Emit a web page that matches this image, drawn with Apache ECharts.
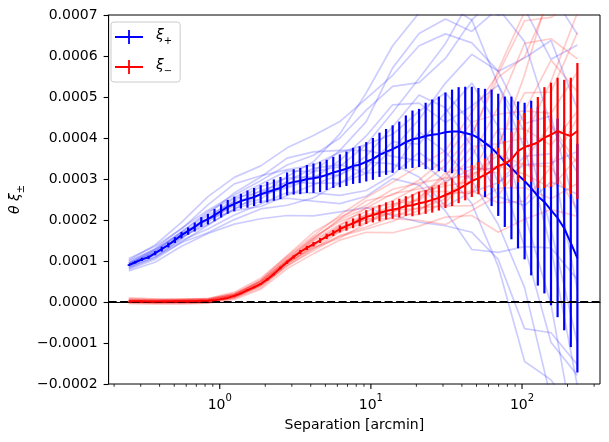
<!DOCTYPE html>
<html lang="en">
<head>
    <meta charset="utf-8">
    <title>xi plus / xi minus</title>
    <script src="https://cdn.jsdelivr.net/npm/echarts@6/dist/echarts.min.js"></script>
    <style>
        html, body { margin: 0; padding: 0; background: #fff; }
        #divXi { width: 609px; height: 442px; }
    </style>
</head>
<body>
<div id="divXi"></div>

<script>
    // all correlation values below are in units of 1e-4
    var SCALE = 1e-4;

    // bin centres [arcmin]
    var sep = [0.25, 0.2764, 0.3057, 0.338, 0.3737, 0.4132, 0.4569, 0.5052, 0.5586, 0.6177,
        0.683, 0.7552, 0.8351, 0.9234, 1.021, 1.129, 1.248, 1.380, 1.526, 1.688,
        1.866, 2.064, 2.282, 2.523, 2.790, 3.085, 3.411, 3.772, 4.170, 4.611,
        5.099, 5.638, 6.234, 6.894, 7.623, 8.429, 9.320, 10.31, 11.40, 12.60,
        13.93, 15.41, 17.03, 18.84, 20.83, 23.03, 25.46, 28.16, 31.13, 34.43,
        38.07, 42.09, 46.54, 51.46, 56.91, 62.92, 69.58, 76.93, 85.07, 94.06,
        104.0, 115.0, 127.2, 140.6, 155.5, 171.9, 190.1, 210.2, 232.4];

    // mean theta*xi+ and its error bar
    var xiPlusMean = [0.90, 0.97, 1.04, 1.09, 1.19, 1.29, 1.39, 1.51, 1.63, 1.73,
        1.83, 1.95, 2.02, 2.12, 2.22, 2.32, 2.39, 2.46, 2.51, 2.56,
        2.63, 2.68, 2.73, 2.78, 2.88, 2.93, 2.95, 3.00, 3.02, 3.05,
        3.10, 3.16, 3.20, 3.25, 3.32, 3.35, 3.42, 3.49, 3.59, 3.66,
        3.73, 3.81, 3.90, 3.97, 4.00, 4.05, 4.08, 4.10, 4.14, 4.16,
        4.16, 4.12, 4.08, 4.00, 3.88, 3.76, 3.59, 3.42, 3.27, 3.10,
        2.95, 2.78, 2.58, 2.44, 2.24, 2.05, 1.80, 1.44, 1.07];
    var xiPlusErr = [0.02, 0.03, 0.04, 0.04, 0.05, 0.06, 0.06, 0.07, 0.08, 0.09,
        0.11, 0.12, 0.13, 0.15, 0.16, 0.17, 0.18, 0.18, 0.21, 0.22,
        0.22, 0.25, 0.26, 0.27, 0.28, 0.31, 0.32, 0.34, 0.36, 0.37,
        0.37, 0.38, 0.40, 0.42, 0.44, 0.45, 0.48, 0.51, 0.54, 0.56,
        0.58, 0.59, 0.65, 0.70, 0.71, 0.81, 0.86, 0.91, 0.97, 1.02,
        1.08, 1.13, 1.17, 1.22, 1.32, 1.42, 1.49, 1.59, 1.74, 1.79,
        1.91, 2.13, 2.18, 2.23, 2.32, 2.42, 2.49, 2.54, 2.79];

    // mean theta*xi- and its error bar
    var xiMinusMean = [0.02, 0.02, 0.02, 0.01, 0.01, 0.01, 0.01, 0.02, 0.02, 0.02,
        0.02, 0.03, 0.03, 0.04, 0.07, 0.10, 0.15, 0.21, 0.29, 0.36,
        0.44, 0.55, 0.68, 0.83, 0.97, 1.10, 1.22, 1.32, 1.41, 1.50,
        1.60, 1.68, 1.78, 1.85, 1.92, 2.00, 2.07, 2.12, 2.17, 2.22,
        2.25, 2.29, 2.34, 2.36, 2.41, 2.44, 2.49, 2.54, 2.61, 2.68,
        2.76, 2.85, 2.95, 3.02, 3.10, 3.20, 3.32, 3.37, 3.48, 3.68,
        3.78, 3.83, 3.89, 4.01, 4.08, 4.17, 4.10, 4.05, 4.17];
    var xiMinusErr = [0.005, 0.005, 0.005, 0.005, 0.005, 0.005, 0.005, 0.005, 0.005, 0.005,
        0.01, 0.01, 0.01, 0.01, 0.01, 0.01, 0.02, 0.02, 0.02, 0.02,
        0.02, 0.03, 0.03, 0.035, 0.04, 0.04, 0.05, 0.05, 0.055, 0.06,
        0.065, 0.073, 0.086, 0.11, 0.12, 0.15, 0.17, 0.18, 0.20, 0.21,
        0.22, 0.23, 0.24, 0.27, 0.28, 0.29, 0.31, 0.31, 0.32, 0.34,
        0.35, 0.37, 0.39, 0.39, 0.40, 0.42, 0.44, 0.56, 0.67, 0.76,
        0.83, 0.90, 1.11, 1.23, 1.27, 1.30, 1.32, 1.42, 1.66];

    // individual realisations, read at every 4th bin
    var sepCoarse = sep.filter(function (s, i) { return i % 4 === 0; });

    var xiPlusSims = [
        [1.02, 1.39, 1.94, 2.57, 3.04, 3.32, 3.76, 4.06, 4.40, 4.96, 5.53, 6.25, 6.54, 6.32, 5.63, 5.95, 6.38, 4.71],
        [0.76, 0.97, 1.36, 1.67, 1.90, 2.03, 2.11, 2.10, 2.20, 2.30, 2.11, 1.95, 1.86, 1.70, 1.04, -0.65, -0.75, -1.53],
        [0.96, 1.30, 1.80, 2.24, 2.61, 2.96, 3.34, 3.58, 4.00, 4.68, 5.26, 5.35, 5.94, 6.88, 7.50, 7.15, 5.92, 6.27],
        [0.84, 1.12, 1.50, 1.78, 2.12, 2.39, 2.67, 2.66, 2.60, 2.72, 3.10, 3.65, 3.18, 2.40, 0.87, -1.45, -1.90, -2.83],
        [0.92, 1.25, 1.66, 2.00, 2.47, 2.81, 3.02, 3.06, 3.10, 3.56, 4.27, 5.05, 4.74, 3.80, 2.57, 2.35, 2.93, 2.63],
        [0.88, 1.17, 1.64, 2.11, 2.44, 2.60, 2.78, 3.02, 3.45, 4.05, 4.81, 4.85, 4.38, 4.78, 5.29, 4.15, 1.78, -1.01],
        [0.90, 1.16, 1.56, 1.95, 2.39, 2.72, 2.92, 2.90, 2.90, 3.14, 3.73, 4.45, 5.34, 6.04, 5.63, 4.35, 4.54, 2.11],
        [1.00, 1.29, 1.71, 2.15, 2.66, 3.05, 3.51, 3.66, 3.70, 3.70, 3.55, 3.45, 2.94, 3.24, 3.25, 1.35, -0.98, -1.79],
        [0.80, 1.04, 1.46, 1.87, 2.28, 2.45, 2.53, 2.46, 2.40, 2.58, 3.01, 2.85, 2.22, 1.28, 1.21, 1.35, 1.32, 0.55],
        [0.94, 1.21, 1.62, 2.04, 2.53, 2.69, 2.81, 3.18, 3.70, 4.40, 5.71, 6.55, 6.90, 6.60, 7.16, 6.35, 4.31, 3.15],
        [0.86, 1.09, 1.45, 1.69, 2.01, 2.27, 2.36, 2.54, 2.90, 3.28, 3.91, 3.85, 4.62, 5.34, 4.27, 2.15, -0.06, -3.61],
        [1.06, 1.36, 1.78, 2.37, 2.88, 3.08, 3.23, 3.34, 3.65, 3.84, 4.63, 5.45, 6.30, 7.44, 6.99, 7.35, 7.53, 6.53],
        [0.82, 1.08, 1.55, 2.02, 2.34, 2.51, 2.95, 3.26, 3.35, 3.14, 3.19, 4.15, 3.66, 2.96, 1.89, 0.35, -2.36, -3.09],
        [0.92, 1.23, 1.71, 2.20, 2.55, 2.87, 3.20, 3.18, 3.30, 3.84, 4.09, 4.65, 5.10, 4.36, 2.91, 3.55, 3.62, 0.29],
        [0.88, 1.19, 1.59, 1.89, 2.26, 2.63, 3.06, 3.42, 4.10, 5.10, 6.25, 7.05, 7.26, 6.88, 5.29, 3.75, 1.32, -2.05],
        [0.95, 1.27, 1.69, 2.02, 2.23, 2.33, 2.60, 2.86, 3.10, 3.42, 3.37, 3.05, 2.34, 2.68, 2.91, 3.35, 3.39, 3.67]
    ];

    var xiMinusSims = [
        [0.080, 0.058, 0.060, 0.086, 0.24, 0.58, 1.11, 1.62, 2.12, 2.55, 2.92, 3.32, 3.69, 4.63, 5.57, 6.86, 6.94, 7.37],
        [-0.040, -0.054, -0.052, -0.030, 0.065, 0.31, 0.81, 1.18, 1.51, 1.70, 1.69, 1.85, 2.07, 2.11, 1.70, 2.02, 2.26, 2.09],
        [0.044, 0.046, 0.064, 0.062, 0.175, 0.50, 1.05, 1.58, 1.96, 2.20, 2.47, 2.83, 3.33, 4.09, 5.48, 5.98, 7.46, 8.01],
        [-0.004, -0.006, -0.008, -0.010, 0.11, 0.40, 0.89, 1.25, 1.62, 1.83, 2.08, 2.31, 2.34, 2.35, 2.78, 2.79, 2.52, 2.89],
        [0.028, 0.010, 0.032, 0.050, 0.16, 0.43, 0.99, 1.49, 1.83, 2.07, 2.36, 2.69, 2.83, 2.95, 3.86, 5.10, 5.12, 6.57],
        [0.012, 0.022, 0.020, 0.018, 0.155, 0.47, 0.97, 1.36, 1.74, 2.14, 2.25, 2.27, 2.52, 3.19, 4.22, 4.22, 3.82, 4.65],
        [0.060, 0.034, 0.028, 0.030, 0.17, 0.50, 1.01, 1.41, 1.87, 2.29, 2.64, 2.76, 2.88, 3.55, 4.76, 6.31, 6.42, 5.93],
        [-0.020, -0.022, 0.004, 0.038, 0.135, 0.38, 0.87, 1.29, 1.71, 2.03, 2.03, 1.99, 1.89, 2.23, 2.60, 3.45, 4.34, 3.37],
        [0.036, 0.034, 0.052, 0.078, 0.20, 0.47, 0.95, 1.33, 1.60, 1.78, 1.97, 2.24, 2.61, 2.71, 2.42, 2.46, 3.30, 4.49],
        [0.004, -0.026, -0.028, -0.002, 0.13, 0.44, 1.02, 1.54, 2.01, 2.29, 2.39, 2.48, 2.97, 3.79, 3.86, 4.00, 5.38, 7.05],
        [0.020, 0.018, 0.012, 0.010, 0.09, 0.34, 0.91, 1.38, 1.82, 2.00, 2.19, 2.52, 3.15, 3.31, 3.14, 4.66, 5.90, 5.13],
        [0.100, 0.074, 0.076, 0.070, 0.21, 0.54, 1.13, 1.70, 2.07, 2.36, 2.75, 2.90, 3.02, 3.07, 3.59, 3.34, 3.30, 2.25],
        [-0.012, -0.006, 0.028, 0.054, 0.19, 0.51, 1.02, 1.44, 1.73, 1.94, 2.19, 2.55, 3.06, 4.03, 5.66, 7.08, 7.20, 7.05],
        [0.056, 0.058, 0.044, 0.022, 0.12, 0.42, 0.99, 1.51, 1.89, 2.11, 2.14, 2.13, 2.43, 3.13, 3.32, 3.12, 2.78, 3.53],
        [0.012, -0.014, -0.020, -0.018, 0.10, 0.405, 0.94, 1.31, 1.56, 1.92, 2.31, 2.69, 2.70, 2.65, 3.77, 5.54, 7.72, 8.01],
        [0.036, 0.014, 0.036, 0.042, 0.18, 0.52, 1.08, 1.55, 2.03, 2.47, 2.61, 2.97, 3.51, 4.39, 4.58, 4.66, 4.60, 5.61]
    ];

    // x axis tick positions (log axis: decades get a label, the rest are minor)
    var xTickValues = [0.2, 0.3, 0.4, 0.5, 0.6, 0.7, 0.8, 0.9, 1,
        2, 3, 4, 5, 6, 7, 8, 9, 10,
        20, 30, 40, 50, 60, 70, 80, 90, 100,
        200, 300];

    var X_MIN = 0.184, X_MAX = 328;
    var Y_MIN = -0.0002, Y_MAX = 0.0007, Y_STEP = 0.0001;
</script>

<script>
    var FONT = 'DejaVu Sans';

    function isDecade(v) {
        var l = Math.log10(v);
        return Math.abs(l - Math.round(l)) < 1e-9;
    }

    function simSeries(rows, color) {
        return rows.map(function (row) {
            return {
                type: 'line',
                data: sepCoarse.map(function (x, i) { return [x, row[i] * SCALE]; }),
                showSymbol: false,
                silent: true,
                z: 1,
                lineStyle: { color: color, width: 1.7 },
                emphasis: { disabled: true }
            };
        });
    }

    function errorBars(mean, err, color, z) {
        return {
            type: 'custom',
            silent: true,
            clip: true,
            z: z,
            data: sep.map(function (x, i) {
                return [x, (mean[i] - err[i]) * SCALE, (mean[i] + err[i]) * SCALE];
            }),
            encode: { x: 0, y: [1, 2] },
            renderItem: function (params, api) {
                var lo = api.coord([api.value(0), api.value(1)]);
                var hi = api.coord([api.value(0), api.value(2)]);
                return {
                    type: 'line',
                    shape: { x1: lo[0], y1: lo[1], x2: hi[0], y2: hi[1] },
                    style: { stroke: color, lineWidth: 2.2 }
                };
            }
        };
    }

    function meanLine(name, mean, color, z) {
        return {
            name: name,
            type: 'line',
            z: z,
            silent: true,
            showSymbol: false,
            data: sep.map(function (x, i) { return [x, mean[i] * SCALE]; }),
            itemStyle: { color: color },
            lineStyle: { color: color, width: 2 },
            emphasis: { disabled: true }
        };
    }

    var xTicks = {
        type: 'custom',
        silent: true,
        clip: false,
        z: 10,
        data: xTickValues.map(function (v) { return [v, Y_MIN]; }),
        renderItem: function (params, api) {
            var v = api.value(0);
            var p = api.coord([v, api.value(1)]);
            var major = isDecade(v);
            return {
                type: 'line',
                shape: { x1: p[0], y1: p[1], x2: p[0], y2: p[1] + (major ? 4.9 : 2.8) },
                style: { stroke: '#000', lineWidth: major ? 1.1 : 0.8 }
            };
        }
    };

    var redMean = meanLine('ξ−', xiMinusMean, '#ff0000', 6);
    redMean.markLine = {
        silent: true,
        symbol: 'none',
        label: { show: false },
        lineStyle: { color: '#000', type: [8, 3.5], width: 2 },
        data: [{ yAxis: 0 }]
    };

    var crossIcon = 'path://M0,6.1H28V7.9H0Z M13.1,0H14.9V14H13.1Z';

    var option = {
        animation: false,
        textStyle: { fontFamily: FONT },
        grid: {
            left: 103, right: 9, top: 15, bottom: 58,
            show: true, borderColor: '#000', borderWidth: 1, backgroundColor: 'transparent'
        },
        legend: {
            left: 111, top: 22,
            orient: 'vertical',
            padding: [6, 8, 6, 4],
            itemGap: 12,
            itemWidth: 28, itemHeight: 14,
            backgroundColor: 'rgba(255,255,255,0.8)',
            borderColor: '#cccccc', borderWidth: 1, borderRadius: 3,
            data: [{ name: 'ξ+', icon: crossIcon }, { name: 'ξ−', icon: crossIcon }],
            formatter: function (name) {
                return '{i|ξ}{s|' + (name === 'ξ+' ? '+' : '−') + '}';
            },
            textStyle: {
                padding: [0, 0, 0, 8],
                rich: {
                    i: { fontFamily: FONT, fontSize: 14, fontStyle: 'italic', color: '#000', lineHeight: 18, verticalAlign: 'top' },
                    s: { fontFamily: FONT, fontSize: 10, color: '#000', lineHeight: 10, verticalAlign: 'bottom' }
                }
            }
        },
        xAxis: {
            type: 'log',
            logBase: 10,
            min: X_MIN,
            max: X_MAX,
            name: 'Separation [arcmin]',
            nameLocation: 'middle',
            nameGap: 34,
            nameTextStyle: { fontFamily: FONT, fontSize: 14, color: '#000' },
            axisLine: { show: true, lineStyle: { color: '#000', width: 1 } },
            axisTick: { show: false },
            splitLine: { show: false },
            minorTick: { show: false },
            axisLabel: {
                margin: 9,
                formatter: function (v) {
                    if (!isDecade(v)) return '';
                    return '{b|10}{sup|' + Math.round(Math.log10(v)) + '}';
                },
                rich: {
                    b: { fontFamily: FONT, fontSize: 14, color: '#000', lineHeight: 19, verticalAlign: 'bottom' },
                    sup: { fontFamily: FONT, fontSize: 10, color: '#000', lineHeight: 11, verticalAlign: 'top' }
                }
            }
        },
        yAxis: {
            type: 'value',
            min: Y_MIN,
            max: Y_MAX,
            interval: Y_STEP,
            name: '{i|θ ξ}{s|±}',
            nameLocation: 'middle',
            nameRotate: 90,
            nameGap: 72,
            nameTextStyle: {
                rich: {
                    i: { fontFamily: FONT, fontSize: 14, fontStyle: 'italic', color: '#000', lineHeight: 18, verticalAlign: 'top' },
                    s: { fontFamily: FONT, fontSize: 10, color: '#000', lineHeight: 10, verticalAlign: 'bottom' }
                }
            },
            axisLine: { show: true, lineStyle: { color: '#000', width: 1 } },
            axisTick: { show: true, length: 5, lineStyle: { color: '#000', width: 1.1 } },
            splitLine: { show: false },
            axisLabel: {
                margin: 11,
                fontFamily: FONT,
                fontSize: 14,
                color: '#000',
                formatter: function (v) {
                    var s = Math.abs(v).toFixed(4);
                    return (v < -1e-12 ? '\u2212' : '') + s;
                }
            }
        },
        series: []
            .concat(simSeries(xiPlusSims, 'rgba(0,0,255,0.2)'))
            .concat(simSeries(xiMinusSims, 'rgba(255,0,0,0.2)'))
            .concat([
                errorBars(xiPlusMean, xiPlusErr, '#0000ff', 3),
                meanLine('ξ+', xiPlusMean, '#0000ff', 4),
                errorBars(xiMinusMean, xiMinusErr, '#ff0000', 5),
                redMean,
                xTicks
            ])
    };

    var myChart = echarts.init(document.getElementById('divXi'), null, { renderer: 'canvas' });
    myChart.setOption(option);
</script>
</body>
</html>
